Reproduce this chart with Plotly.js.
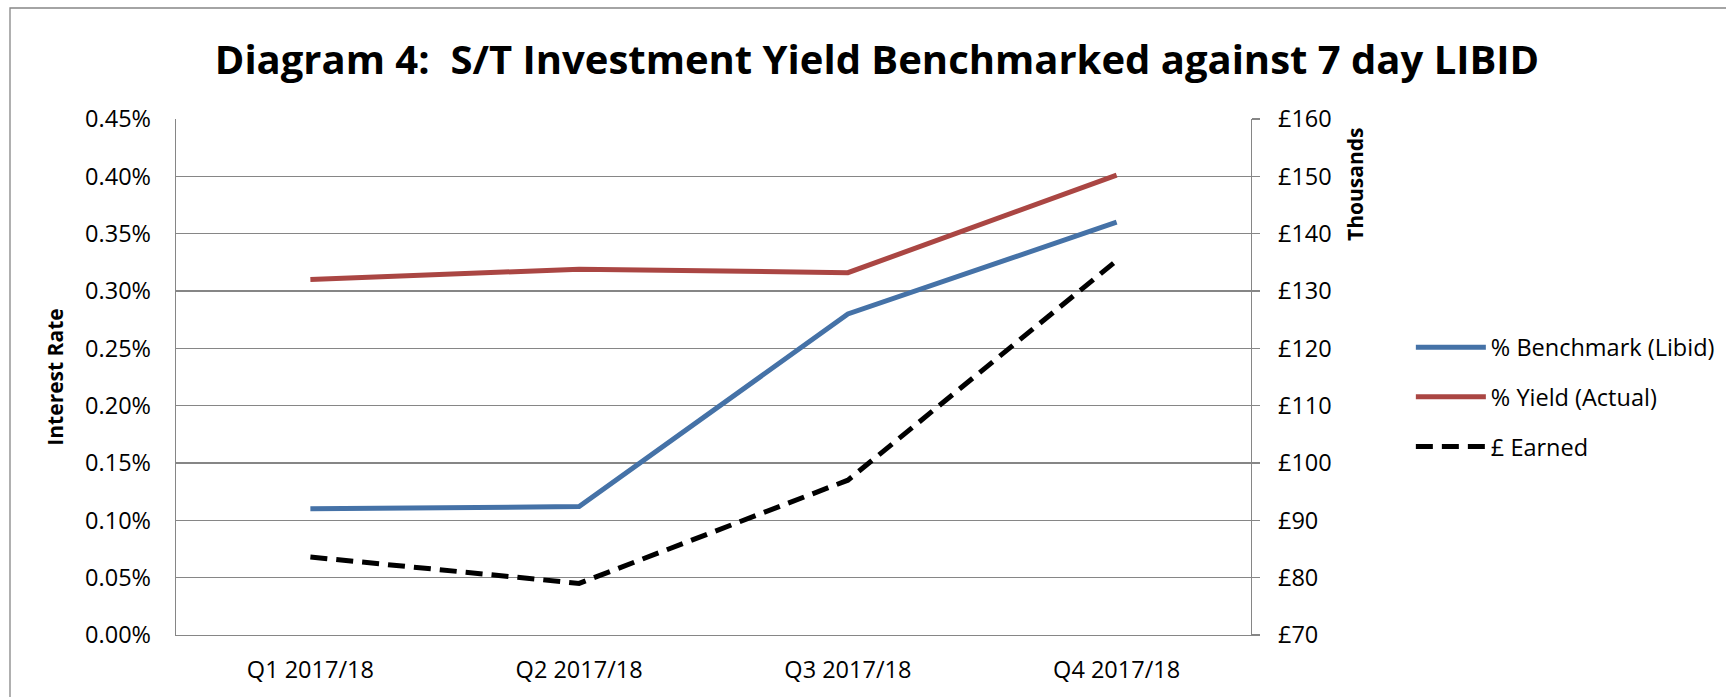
<!DOCTYPE html>
<html>
<head>
<meta charset="utf-8">
<script src="https://cdn.plot.ly/plotly-3.0.1.min.js"></script>
<style>
  html, body { margin: 0; padding: 0; background: #ffffff; }
  #chart { width: 1726px; height: 697px; }
</style>
</head>
<body>
<div id="chart"></div>
<script>
// ---- data ----
const categories = ["Q1 2017/18", "Q2 2017/18", "Q3 2017/18", "Q4 2017/18"];
const benchmarkLibid = [0.110, 0.112, 0.280, 0.360];   // % (left axis)
const yieldActual   = [0.310, 0.319, 0.316, 0.401];    // % (left axis)
const poundsEarned  = [83.6, 79.0, 97.0, 135.3];       // £ thousands (right axis)

const chartTitle = "Diagram 4:\u00a0 S/T Investment Yield Benchmarked against 7 day LIBID";
const seriesNames = ["% Benchmark (Libid)", "% Yield (Actual)", "£ Earned"];
const leftAxisTitle = "Interest Rate";
const rightAxisUnits = "Thousands";

const FONT = "'Open Sans', 'Liberation Sans', sans-serif";
const GRID = "#868686";
const FS = 23.5;

const traces = [
  {
    x: categories, y: benchmarkLibid, name: seriesNames[0], type: "scatter", mode: "lines",
    line: { color: "#4572A7", width: 5 }, legendgroup: "a", yaxis: "y"
  },
  {
    x: categories, y: yieldActual, name: seriesNames[1], type: "scatter", mode: "lines",
    line: { color: "#AA4643", width: 5 }, legendgroup: "b", yaxis: "y"
  },
  {
    x: categories, y: poundsEarned, name: seriesNames[2], type: "scatter", mode: "lines",
    line: { color: "#000000", width: 5, dash: "17px,9px" }, legendgroup: "c", yaxis: "y2"
  }
];

const layout = {
  width: 1726, height: 697,
  margin: { l: 176, r: 475, t: 119, b: 62, pad: 0, autoexpand: false },
  paper_bgcolor: "#ffffff", plot_bgcolor: "#ffffff",
  font: { family: FONT, size: FS, color: "#000000" },
  title: {
    text: chartTitle,
    font: { family: FONT, size: 40, weight: 700, color: "#000000" },
    x: 877 / 1726, xanchor: "center", xref: "container",
    y: 1 - 60 / 697, yanchor: "middle", yref: "container"
  },
  showlegend: true,
  legend: {
    x: 1.1487, xanchor: "left", y: 1 - (397 - 119) / 516, yanchor: "middle",
    font: { family: FONT, size: FS, color: "#000000" },
    traceorder: "grouped", tracegroupgap: 16,
    itemwidth: 70, bgcolor: "rgba(0,0,0,0)", borderwidth: 0
  },
  xaxis: {
    type: "category", range: [-0.5, 3.5],
    showgrid: false, zeroline: false,
    showline: true, linecolor: GRID, linewidth: 1.3,
    ticks: "", ticklabelstandoff: 13,
    tickfont: { family: FONT, size: FS, color: "#000000" },
    fixedrange: true
  },
  yaxis: {
    range: [0, 0.45], dtick: 0.05, tick0: 0,
    tickformat: ".2f", ticksuffix: "%",
    showgrid: true, gridcolor: GRID, gridwidth: 1.3,
    zeroline: false, showline: true, linecolor: GRID, linewidth: 1.3,
    ticks: "", ticklabelstandoff: 19,
    tickfont: { family: FONT, size: FS, color: "#000000" },
    title: { text: leftAxisTitle, font: { family: FONT, size: 21, weight: 700, color: "#000000" }, standoff: 15 },
    fixedrange: true
  },
  yaxis2: {
    overlaying: "y", side: "right",
    range: [70, 160], dtick: 10, tick0: 70,
    tickprefix: "£",
    showgrid: false, zeroline: false,
    showline: true, linecolor: GRID, linewidth: 1.3,
    ticks: "outside", ticklen: 8, tickcolor: GRID, tickwidth: 1.3,
    ticklabelstandoff: 13,
    tickfont: { family: FONT, size: FS, color: "#000000" },
    fixedrange: true
  },
  shapes: [
    { type: "rect", xref: "paper", yref: "paper",
      x0: (10 - 176) / 1075, x1: (1740 - 176) / 1075,
      y0: (635 - 710) / 516, y1: 1 + (119 - 8) / 516,
      line: { color: GRID, width: 1.3 }, fillcolor: "rgba(0,0,0,0)", layer: "below" }
  ],
  annotations: [
    { text: rightAxisUnits, xref: "paper", yref: "paper",
      x: (1355 - 176) / 1075, y: 1 - (185 - 119) / 516,
      xanchor: "center", yanchor: "middle", textangle: -90, showarrow: false,
      font: { family: FONT, size: 21, weight: 700, color: "#000000" } }
  ]
};

Plotly.newPlot("chart", traces, layout, { displayModeBar: false, staticPlot: true });
</script>
</body>
</html>
